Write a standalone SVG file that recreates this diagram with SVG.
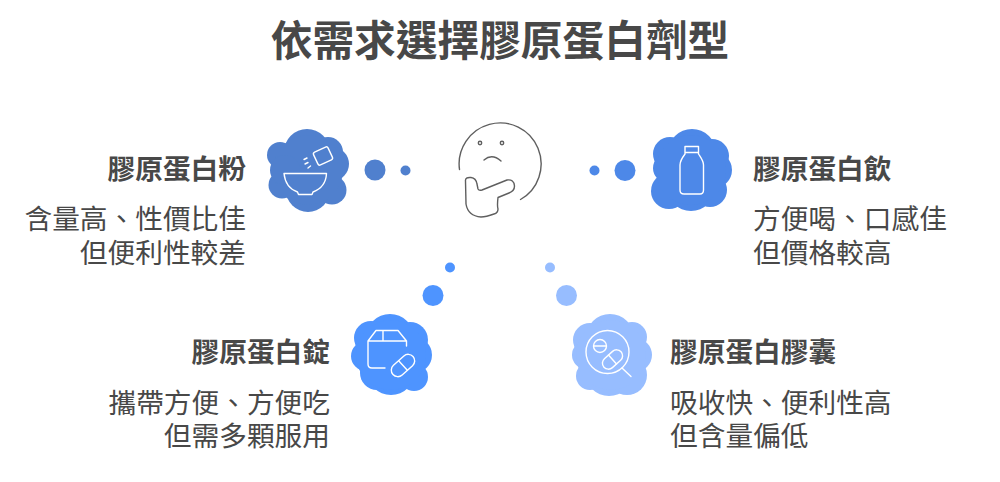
<svg xmlns="http://www.w3.org/2000/svg" width="1000" height="482" viewBox="0 0 1000 482">
<style>
text{font-family:"Noto Sans CJK TC","Noto Sans CJK SC",sans-serif;fill:#484848}
.t{font-size:41.7px;font-weight:700}
.h{font-size:27.7px;font-weight:700}
.b{font-size:27.7px;font-weight:400}
.e{text-anchor:end}
.ic{fill:none;stroke:#fff;stroke-width:1.4;stroke-linecap:round;stroke-linejoin:round}
.f{fill:none;stroke:#5f5f5f;stroke-width:1.4;stroke-linecap:round;stroke-linejoin:round}
.c1{fill:#5080ce}.c2{fill:#4d88e8}.c3{fill:#4e94ff}.c4{fill:#97bdff}
</style>
<rect width="1000" height="482" fill="#fff"/>
<text class="t" x="500" y="56" text-anchor="middle">依需求選擇膠原蛋白劑型</text>
<g id="connectors">
<circle class="c1" cx="375" cy="170" r="10.5"/><circle class="c1" cx="405.500" cy="170.500" r="5"/>
<circle class="c2" cx="625" cy="170.500" r="10.500"/><circle class="c2" cx="594.500" cy="170.500" r="5"/>
<circle class="c3" cx="433" cy="295.500" r="10.500"/><circle class="c3" cx="450" cy="267.500" r="5"/>
<circle class="c4" cx="566.500" cy="295.500" r="10.500"/><circle class="c4" cx="550" cy="267.500" r="5"/>
</g>
<g id="node-thinker">
<path class="f" d="M459.500 169.500A41 41 0 1 1 520.500 199.500"/>
<circle class="f" cx="480" cy="143" r="1.700"/><circle class="f" cx="502" cy="143" r="1.700"/>
<path class="f" d="M484 160Q492 153 501 161"/>
<path class="f" d="M465.500 181Q465 177 471 177.500Q476 178 477 184L478 189Q479 191 482 190L507 180Q514 179 514.500 186Q514.500 191 509 193L498 197.500Q497 206 498 209Q498 213 494 214Q486 217 481 217Q468 216 466 204Z"/>
</g>
<g id="node-powder">
<g class="c1"><circle cx="307" cy="152" r="23"/><circle cx="328" cy="152" r="15"/><circle cx="280" cy="155" r="13"/><circle cx="282" cy="185" r="13.500"/><circle cx="332" cy="190" r="14.500"/><circle cx="308" cy="190" r="22"/><circle cx="332" cy="164" r="17"/><circle cx="308" cy="170" r="35"/><circle cx="285" cy="170" r="15"/></g>
<path class="ic" d="M284 173.500H326.500C326 183 321 189 313 192L312 194.500H298.500L297.500 192C289 189 285 183 284 173.500Z"/>
<rect class="ic" x="315" y="149" width="16" height="14" rx="2" transform="rotate(-25 323 156)"/>
<path class="ic" d="M304 159.500L307 158M305 164L308 162.500M308 168L310.500 166"/>
</g>
<g id="node-drink">
<g class="c2"><circle cx="692" cy="153" r="24"/><circle cx="670" cy="154" r="17"/><circle cx="712" cy="156" r="17"/><circle cx="714" cy="170" r="18"/><circle cx="668" cy="168" r="15"/><circle cx="669" cy="191" r="18"/><circle cx="710" cy="190" r="17"/><circle cx="691" cy="187" r="24"/><circle cx="691" cy="170" r="35"/></g>
<path class="ic" d="M685 146.500H698.500V152.500H685ZM685 152.500V154C682 158 680 161 680 165V190Q680 194 684 194H700Q703.500 194 703.500 190V165C703.500 161 701 158 698.500 154V152.500"/>
</g>
<g id="node-tablet">
<g class="c3"><circle cx="390" cy="338" r="24"/><circle cx="371" cy="338" r="17"/><circle cx="410" cy="340" r="18"/><circle cx="366" cy="356" r="15"/><circle cx="414" cy="355" r="18"/><circle cx="377" cy="373" r="17"/><circle cx="414" cy="377" r="14"/><circle cx="391" cy="371" r="24"/><circle cx="391" cy="355" r="35"/></g>
<path class="ic" d="M385 368H372Q368 368 368 364V341L376 330.500H398L406.500 341V346M368 341H406.500M383 330.500V341"/>
<g transform="rotate(-42 403 365.500)"><rect class="ic" x="389.500" y="359" width="27" height="13" rx="6.500"/><path class="ic" d="M403 359V372"/></g>
</g>
<g id="node-capsule">
<g class="c4"><circle cx="610" cy="338" r="24"/><circle cx="590" cy="340" r="17"/><circle cx="632" cy="337" r="15"/><circle cx="586" cy="355" r="14"/><circle cx="635" cy="355" r="17"/><circle cx="590" cy="376" r="14"/><circle cx="627" cy="375" r="20"/><circle cx="609" cy="372" r="24"/><circle cx="611" cy="355" r="35"/></g>
<circle class="ic" cx="607.500" cy="352" r="21.500"/>
<path class="ic" d="M622 368L631 376.500"/>
<circle class="ic" cx="600" cy="346" r="6.500"/><path class="ic" d="M594 346H606"/>
<g transform="rotate(-42 612.500 359.500)"><rect class="ic" x="601" y="353.500" width="23" height="12" rx="6"/><path class="ic" d="M612.500 353.500V365.500"/></g>
</g>
<g id="label-powder"><text class="h e" x="246" y="179">膠原蛋白粉</text><text class="b e" x="246" y="229">含量高、性價比佳</text><text class="b e" x="246" y="263">但便利性較差</text></g>
<g id="label-drink"><text class="h" x="753" y="179">膠原蛋白飲</text><text class="b" x="753" y="229">方便喝、口感佳</text><text class="b" x="753" y="263">但價格較高</text></g>
<g id="label-tablet"><text class="h e" x="330" y="362">膠原蛋白錠</text><text class="b e" x="330" y="413">攜帶方便、方便吃</text><text class="b e" x="330" y="446">但需多顆服用</text></g>
<g id="label-capsule"><text class="h" x="670" y="362">膠原蛋白膠囊</text><text class="b" x="670" y="413">吸收快、便利性高</text><text class="b" x="670" y="446">但含量偏低</text></g>
</svg>
